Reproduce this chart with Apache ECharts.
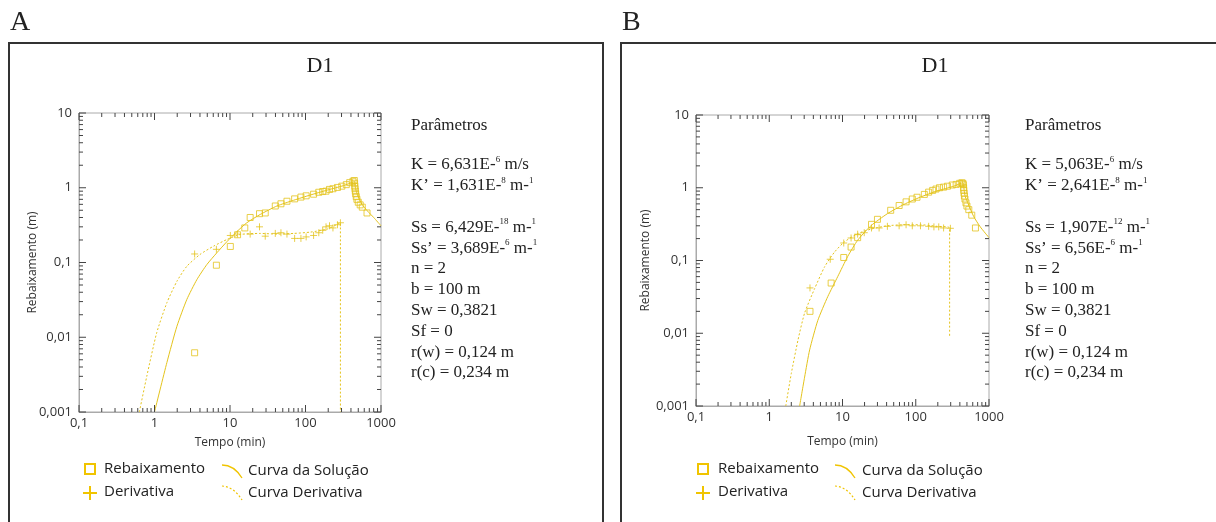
<!DOCTYPE html>
<html><head><meta charset="utf-8">
<script src="https://cdn.jsdelivr.net/npm/echarts@6/dist/echarts.min.js"></script>
<style>html,body{margin:0;padding:0;background:#fff}#c{width:1216px;height:522px}</style>
</head><body><div id="c"></div>
<script>
// ---- tick labels ----
const xTickLabels = ['0,1', '1', '10', '100', '1000'];
const yTickLabels = ['0,001', '0,01', '0,1', '1', '10'];
const xDecades = [0.1, 1, 10, 100, 1000];
const yDecades = [0.001, 0.01, 0.1, 1, 10];

// ---- Panel A data ----
const aRebTime = [3.4, 6.6, 10.1, 12.6, 15.7, 18.5, 24.6, 29.3, 39.8, 47.3, 56.8, 71.8, 87, 102, 128, 150, 169, 187, 208, 231, 265, 303, 347, 385, 425, 443, 447, 450, 453, 457, 462, 470, 480, 500, 530, 565, 653];
const aRebVal  = [0.0062, 0.092, 0.164, 0.235, 0.29, 0.40, 0.45, 0.46, 0.57, 0.61, 0.66, 0.71, 0.75, 0.78, 0.82, 0.87, 0.89, 0.90, 0.95, 0.97, 1.01, 1.05, 1.10, 1.17, 1.22, 1.25, 1.15, 1.05, 0.97, 0.90, 0.83, 0.76, 0.70, 0.64, 0.59, 0.55, 0.46];
const aDerTime = [3.4, 6.6, 10.1, 12.6, 18.5, 24.6, 29.3, 39.8, 47.3, 56.8, 71.8, 87, 102, 128, 150, 169, 187, 208, 231, 265, 290];
const aDerVal  = [0.13, 0.15, 0.23, 0.24, 0.24, 0.30, 0.225, 0.245, 0.25, 0.24, 0.21, 0.21, 0.22, 0.23, 0.25, 0.27, 0.30, 0.31, 0.29, 0.32, 0.34];
const aSolTime = [1, 1.46, 1.98, 2.68, 3.64, 4.94, 6.7, 9.1, 12.4, 16.7, 25.2, 41.8, 69.6, 116, 194, 320, 433, 445, 455, 470, 500, 560, 660, 800, 1000];
const aSolVal  = [0.001, 0.0046, 0.014, 0.032, 0.059, 0.094, 0.135, 0.19, 0.26, 0.34, 0.44, 0.57, 0.68, 0.80, 0.93, 1.07, 1.2, 1.22, 1.05, 0.9, 0.75, 0.6, 0.49, 0.40, 0.31];
const aDcTime  = [0.63, 0.79, 1.07, 1.46, 1.98, 2.68, 4.0, 6.1, 9.1, 13.7, 25, 42, 70, 116, 194, 290, 290];
const aDcVal   = [0.001, 0.003, 0.0115, 0.029, 0.056, 0.089, 0.128, 0.166, 0.203, 0.237, 0.245, 0.24, 0.245, 0.255, 0.28, 0.34, 0.001];

// ---- Panel B data ----
const bRebTime = [3.6, 7.0, 10.4, 13.1, 16.1, 24.9, 30, 45.5, 59.3, 73.8, 89.7, 104, 131, 150, 170, 189, 211, 240, 271, 315, 356, 398, 426, 440, 447, 450, 453, 457, 462, 470, 485, 500, 530, 582, 653];
const bRebVal  = [0.020, 0.049, 0.11, 0.153, 0.206, 0.314, 0.368, 0.49, 0.57, 0.64, 0.70, 0.74, 0.81, 0.87, 0.92, 0.96, 1.0, 1.02, 1.05, 1.09, 1.11, 1.15, 1.17, 1.15, 1.10, 1.0, 0.92, 0.84, 0.77, 0.70, 0.62, 0.56, 0.50, 0.42, 0.28];
const bDerTime = [3.6, 6.8, 10.4, 13.1, 16.1, 19.8, 24.9, 31.6, 41, 59.3, 73.8, 89.7, 116, 150, 177, 206, 240, 297];
const bDerVal  = [0.042, 0.104, 0.174, 0.204, 0.23, 0.241, 0.28, 0.28, 0.295, 0.30, 0.31, 0.30, 0.30, 0.295, 0.29, 0.29, 0.28, 0.277];
const bSolTime = [2.6, 3.04, 3.56, 4.6, 6.3, 8.6, 11.8, 16.1, 24.4, 41, 69, 116, 195, 330, 444, 450, 458, 475, 520, 620, 760, 1000];
const bSolVal  = [0.001, 0.0025, 0.0059, 0.015, 0.032, 0.06, 0.114, 0.19, 0.30, 0.44, 0.59, 0.745, 0.90, 1.05, 1.17, 1.1, 0.92, 0.75, 0.60, 0.40, 0.29, 0.206];
const bDcTime  = [1.68, 2.0, 2.47, 3.04, 4.16, 5.7, 7.8, 10.6, 16.1, 24.4, 41, 69, 116, 195, 290, 290];
const bDcVal   = [0.001, 0.0028, 0.0081, 0.019, 0.041, 0.082, 0.131, 0.18, 0.234, 0.27, 0.30, 0.31, 0.31, 0.295, 0.28, 0.0091];

// ---- texts ----
const panelLetters = ['A', 'B'];
const panelTitles = ['D1', 'D1'];
const legendNames = ['Rebaixamento', 'Derivativa', 'Curva da Solução', 'Curva Derivativa'];
const xName = 'Tempo (min)';
const yName = 'Rebaixamento (m)';
// each parameter line: [text, superscript, tail, superscript]
const paramsA = [['K = 6,631E-', '6', ' m/s'], ['K’ = 1,631E-', '8', ' m-', '1'], null,
  ['Ss = 6,429E-', '18', ' m-', '1'], ['Ss’ = 3,689E-', '6', ' m-', '1'], ['n = 2'], ['b = 100 m'],
  ['Sw = 0,3821'], ['Sf = 0'], ['r(w) = 0,124 m'], ['r(c) = 0,234 m']];
const paramsB = [['K = 5,063E-', '6', ' m/s'], ['K’ = 2,641E-', '8', ' m-', '1'], null,
  ['Ss = 1,907E-', '12', ' m-', '1'], ['Ss’ = 6,56E-', '6', ' m-', '1'], ['n = 2'], ['b = 100 m'],
  ['Sw = 0,3821'], ['Sf = 0'], ['r(w) = 0,124 m'], ['r(c) = 0,234 m']];

const YEL = '#e4c31c';
const YEL_LEG = '#f0c400';
const SANS = 'Open Sans';
const SERIF = 'Liberation Serif';

function zip(t, v) { return t.map((x, i) => [x, v[i]]); }
const PLUS = 'path://M5,0L5,10M0,5L10,5';
const SQUARE = 'path://M0,0L10,0L10,10L0,10Z';

// tick marks (axis structure): major at decades, minor at 2..9
function tickData() {
  const out = [];
  for (let d = -1; d <= 3; d++) {
    for (let m = 1; m <= 9; m++) {
      const v = m * Math.pow(10, d);
      if (v > 1000.0001) break;
      const len = m === 1 ? 7 : 4;
      out.push([v, 0.001, 0, -len]);
      out.push([v, 10, 0, len]);
    }
  }
  for (let d = -3; d <= 1; d++) {
    for (let m = 1; m <= 9; m++) {
      const v = m * Math.pow(10, d);
      if (v > 10.0001) break;
      const len = m === 1 ? 7 : 4;
      out.push([0.1, v, len, 0]);
      out.push([1000, v, -len, 0]);
    }
  }
  return out;
}
function tickRender(params, api) {
  const p = api.coord([api.value(0), api.value(1)]);
  return { type: 'line', shape: { x1: p[0], y1: p[1], x2: p[0] + api.value(2), y2: p[1] + api.value(3) },
    style: { stroke: '#444', lineWidth: 1 } };
}

const grids = [
  { left: 79, top: 113, width: 302, height: 299 },
  { left: 696, top: 115, width: 293, height: 291 }
];
const yNameGap = [40, 44];
const xNameGap = [25, 30];

function xAxisFor(i) {
  return {
    gridIndex: i, type: 'log', logBase: 10, min: 0.1, max: 1000,
    name: xName, nameLocation: 'middle', nameGap: xNameGap[i],
    nameTextStyle: { fontFamily: SANS, fontSize: 12, color: '#333' },
    axisLine: { show: true, lineStyle: { color: '#aaa', width: 1 } },
    axisTick: { show: false }, splitLine: { show: false }, minorTick: { show: false },
    axisLabel: { fontFamily: SANS, fontSize: 13, color: '#333', margin: 5,
      formatter: v => xTickLabels[xDecades.findIndex(d => Math.abs(Math.log10(d) - Math.log10(v)) < 1e-6)] || '' }
  };
}
function yAxisFor(i) {
  return {
    gridIndex: i, type: 'log', logBase: 10, min: 0.001, max: 10,
    name: yName, nameLocation: 'middle', nameGap: yNameGap[i], nameRotate: 90, nameMoveOverlap: false,
    nameTextStyle: { fontFamily: SANS, fontSize: 12, color: '#333' },
    axisLine: { show: true, lineStyle: { color: '#aaa', width: 1 } },
    axisTick: { show: false }, splitLine: { show: false }, minorTick: { show: false },
    axisLabel: { fontFamily: SANS, fontSize: 13, color: '#333', margin: 7,
      formatter: v => yTickLabels[yDecades.findIndex(d => Math.abs(Math.log10(d) - Math.log10(v)) < 1e-6)] || '' }
  };
}

function seriesFor(i, reb, der, sol, dc) {
  return [
    { type: 'line', xAxisIndex: i, yAxisIndex: i, data: sol, showSymbol: false, smooth: 0.2,
      lineStyle: { color: YEL, width: 1 }, silent: true, z: 2 },
    { type: 'line', xAxisIndex: i, yAxisIndex: i, data: dc, showSymbol: false, smooth: 0.2,
      lineStyle: { color: YEL, width: 1, type: [2, 2] }, silent: true, z: 2 },
    { type: 'scatter', xAxisIndex: i, yAxisIndex: i, data: reb, symbol: SQUARE, symbolSize: 6,
      itemStyle: { color: 'none', borderColor: YEL, borderWidth: 1 }, silent: true, z: 3 },
    { type: 'scatter', xAxisIndex: i, yAxisIndex: i, data: der, symbol: PLUS, symbolSize: 7,
      itemStyle: { color: 'none', borderColor: YEL, borderWidth: 1 }, silent: true, z: 3 },
    { type: 'custom', xAxisIndex: i, yAxisIndex: i, data: tickData(), renderItem: tickRender,
      clip: false, silent: true, z: 5 }
  ];
}

const graphics = [];
const boxX = [9, 621];
const boxW = [594, 620];
const titleX = [320, 935];
const paramX = [411, 1025];
const legX = [90, 703];      // square icon centre x
const legTextX = [104, 718];
const curveX = [222, 835];
const legText2X = [248, 862];
const params = [paramsA, paramsB];

for (let i = 0; i < 2; i++) {
  graphics.push({ type: 'rect', shape: { x: boxX[i], y: 43, width: boxW[i], height: 500 },
    style: { fill: 'none', stroke: '#333', lineWidth: 2 }, z: 1 });
  graphics.push({ type: 'text', x: boxX[i] + 1, y: 9, style: { text: panelLetters[i], font: '28px "' + SERIF + '"', fill: '#222' } });
  graphics.push({ type: 'text', x: titleX[i], y: 55, style: { text: panelTitles[i], font: '22px "' + SERIF + '"', fill: '#222', align: 'center' } });
  // parameters
  graphics.push({ type: 'text', x: paramX[i], y: 117, style: { text: 'Parâmetros', font: '17px "' + SERIF + '"', fill: '#222' } });
  let y = 155;
  params[i].forEach(p => {
    if (p) {
      let rt = '{n|' + p[0] + '}';
      if (p.length > 1) rt += '{s|' + p[1] + '}';
      if (p.length > 2) rt += '{n|' + p[2] + '}';
      if (p.length > 3) rt += '{s|' + p[3] + '}';
      graphics.push({ type: 'text', x: paramX[i], y: y, style: {
        text: rt, rich: {
          n: { fontFamily: SERIF, fontSize: 17, lineHeight: 20, fill: '#222' },
          s: { fontFamily: SERIF, fontSize: 9, lineHeight: 18, verticalAlign: 'top', fill: '#222' }
        } } });
    }
    y += 20.8;
  });
  // legend
  graphics.push({ type: 'rect', shape: { x: legX[i] - 5, y: 464, width: 10, height: 10 },
    style: { fill: 'none', stroke: YEL_LEG, lineWidth: 2 } });
  graphics.push({ type: 'polyline', shape: { points: [[legX[i] - 7, 493], [legX[i] + 7, 493]] }, style: { stroke: YEL_LEG, lineWidth: 2 } });
  graphics.push({ type: 'polyline', shape: { points: [[legX[i], 486], [legX[i], 500]] }, style: { stroke: YEL_LEG, lineWidth: 2 } });
  graphics.push({ type: 'bezierCurve', shape: { x1: curveX[i], y1: 465, cpx1: curveX[i] + 12, cpy1: 465, x2: curveX[i] + 20, y2: 478 },
    style: { stroke: YEL_LEG, lineWidth: 1.3, fill: 'none' } });
  graphics.push({ type: 'bezierCurve', shape: { x1: curveX[i], y1: 486, cpx1: curveX[i] + 12, cpy1: 487, x2: curveX[i] + 20, y2: 500 },
    style: { stroke: YEL_LEG, lineWidth: 1.2, lineDash: [2, 2], fill: 'none' } });
  const lf = '15px "' + SANS + '"';
  graphics.push({ type: 'text', x: legTextX[i], y: 469, style: { text: legendNames[0], font: lf, fill: '#222', verticalAlign: 'middle' } });
  graphics.push({ type: 'text', x: legTextX[i], y: 492, style: { text: legendNames[1], font: lf, fill: '#222', verticalAlign: 'middle' } });
  graphics.push({ type: 'text', x: legText2X[i], y: 471, style: { text: legendNames[2], font: lf, fill: '#222', verticalAlign: 'middle' } });
  graphics.push({ type: 'text', x: legText2X[i], y: 493, style: { text: legendNames[3], font: lf, fill: '#222', verticalAlign: 'middle' } });
}

const chart = echarts.init(document.getElementById('c'), null, { renderer: 'canvas' });
chart.setOption({
  animation: false,
  backgroundColor: '#fff',
  grid: grids.map(g => Object.assign({ show: true, borderColor: '#aaa', borderWidth: 1, backgroundColor: 'transparent' }, g)),
  xAxis: [xAxisFor(0), xAxisFor(1)],
  yAxis: [yAxisFor(0), yAxisFor(1)],
  series: [].concat(
    seriesFor(0, zip(aRebTime, aRebVal), zip(aDerTime, aDerVal), zip(aSolTime, aSolVal), zip(aDcTime, aDcVal)),
    seriesFor(1, zip(bRebTime, bRebVal), zip(bDerTime, bDerVal), zip(bSolTime, bSolVal), zip(bDcTime, bDcVal))
  ),
  graphic: graphics
});
</script>
</body></html>
